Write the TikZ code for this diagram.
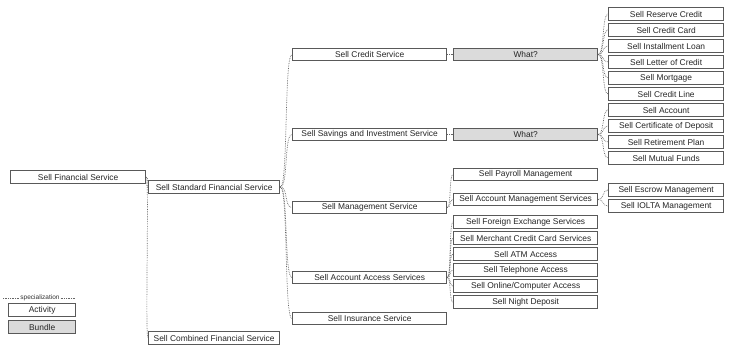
\documentclass[tikz,border=0pt]{standalone}
\usepackage{fontspec}
\setmainfont{Liberation Sans}
\begin{document}
\begin{tikzpicture}[x=1pt,y=-1pt,
  box/.style={draw=black!65, line width=1.3pt, fill=white, inner sep=0pt,
    minimum height=12.5pt, anchor=west, font=\fontsize{8.4}{9}\selectfont, text=black!85},
  bundle/.style={box, fill=black!14},
  w0/.style={minimum width=135pt},
  w1/.style={minimum width=131pt},
  w2/.style={minimum width=154pt},
  w3/.style={minimum width=144pt},
  w4/.style={minimum width=115pt},
  wl/.style={minimum width=67pt},
  conn/.style={draw=black!60, line width=0.7pt, densely dotted}]
\useasboundingbox (0,0) rectangle (729,345);

% root and first level
\node[box,w0] (fin) at (10,177) {Sell Financial Service};
\node[box,w1] (std) at (148,187) {Sell Standard Financial Service};
\node[box,w1] (comb) at (148,338) {Sell Combined Financial Service};

% second level
\node[box,w2] (credit) at (292,54.5) {Sell Credit Service};
\node[box,w2] (sav) at (292,134.5) {Sell Savings and Investment Service};
\node[box,w2] (mgmt) at (292,207.5) {Sell Management Service};
\node[box,w2] (access) at (292,277.5) {Sell Account Access Services};
\node[box,w2] (ins) at (292,318.5) {Sell Insurance Service};

% third level
\node[bundle,w3] (what1) at (453,54.5) {What?};
\node[bundle,w3] (what2) at (453,134.5) {What?};
\node[box,w3] (payroll) at (453,174.5) {Sell Payroll Management};
\node[box,w3] (acctmgmt) at (453,199.5) {Sell Account Management Services};
\node[box,w3] (forex) at (453,222) {Sell Foreign Exchange Services};
\node[box,w3] (merchant) at (453,238) {Sell Merchant Credit Card Services};
\node[box,w3] (atm) at (453,254) {Sell ATM Access};
\node[box,w3] (phone) at (453,270) {Sell Telephone Access};
\node[box,w3] (online) at (453,286) {Sell Online/Computer Access};
\node[box,w3] (night) at (453,302) {Sell Night Deposit};

% fourth level
\node[box,w4] (reserve) at (608,14) {Sell Reserve Credit};
\node[box,w4] (card) at (608,30) {Sell Credit Card};
\node[box,w4] (loan) at (608,46) {Sell Installment Loan};
\node[box,w4] (letter) at (608,62) {Sell Letter of Credit};
\node[box,w4] (mortgage) at (608,78) {Sell Mortgage};
\node[box,w4] (line) at (608,94) {Sell Credit Line};
\node[box,w4] (account) at (608,110) {Sell Account};
\node[box,w4] (cd) at (608,126) {Sell Certificate of Deposit};
\node[box,w4] (retire) at (608,142) {Sell Retirement Plan};
\node[box,w4] (mutual) at (608,158) {Sell Mutual Funds};
\node[box,w4] (escrow) at (608,190) {Sell Escrow Management};
\node[box,w4] (iolta) at (608,206) {Sell IOLTA Management};

% specialization connectors
\foreach \c in {std,comb}
  \draw[conn] (fin.east) .. controls +(3,0) and +(-3,0) .. (\c.west);
\foreach \c in {credit,sav,mgmt,access,ins}
  \draw[conn] (std.east) .. controls +(8,0) and +(-8,0) .. (\c.west);
\draw[conn] (credit.east) -- (what1.west);
\draw[conn] (sav.east) -- (what2.west);
\foreach \c in {payroll,acctmgmt}
  \draw[conn] (mgmt.east) .. controls +(4,0) and +(-4,0) .. (\c.west);
\foreach \c in {forex,merchant,atm,phone,online,night}
  \draw[conn] (access.east) .. controls +(4,0) and +(-4,0) .. (\c.west);
\foreach \c in {reserve,card,loan,letter,mortgage,line}
  \draw[conn] (what1.east) .. controls +(6,0) and +(-6,0) .. (\c.west);
\foreach \c in {account,cd,retire,mutual}
  \draw[conn] (what2.east) .. controls +(6,0) and +(-6,0) .. (\c.west);
\foreach \c in {escrow,iolta}
  \draw[conn] (acctmgmt.east) .. controls +(6,0) and +(-6,0) .. (\c.west);

% legend
\node[font=\fontsize{6.5}{7}\selectfont, text=black!80, inner sep=1pt, fill=white] (spec) at (40,298) {specialization};
\coordinate (specl) at (3,298);
\coordinate (specr) at (76,298);
\draw[conn] (specl) -- (spec.west);
\draw[conn] (spec.east) -- (specr);
\node[box,wl] (act) at (8,310) {Activity};
\node[bundle,wl] (bun) at (8,327) {Bundle};
\end{tikzpicture}
\end{document}
